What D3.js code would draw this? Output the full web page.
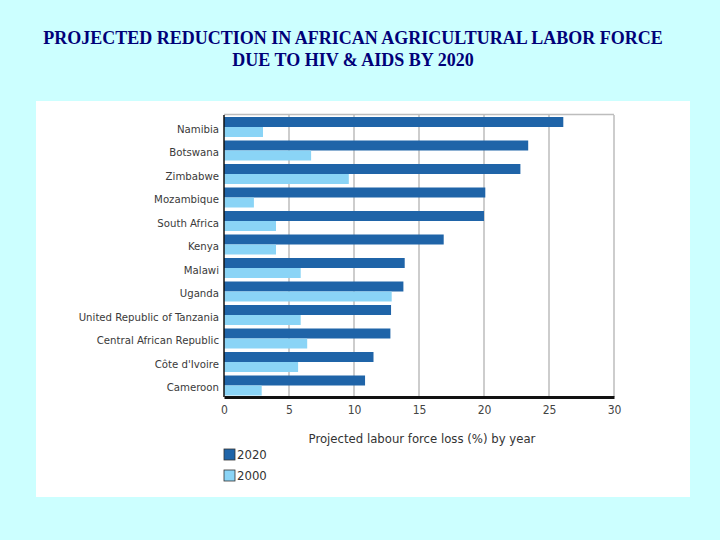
<!DOCTYPE html>
<html>
<head>
<meta charset="utf-8">
<script src="https://cdn.jsdelivr.net/npm/d3@7"></script>
<style>
  body { margin: 0; background: #ccffff; }
  svg { display: block; }
</style>
</head>
<body>
<div id="chart"></div>
<script>
(function () {

  // Data
  const countries = ["Namibia","Botswana","Zimbabwe","Mozambique","South Africa","Kenya","Malawi","Uganda","United Republic of Tanzania","Central African Republic","Côte d'Ivoire","Cameroon"]
  const loss2020 = [26.1, 23.4, 22.8, 20.1, 20.0, 16.9, 13.9, 13.8, 12.85, 12.8, 11.5, 10.85]
  const loss2000 = [3.0, 6.7, 9.6, 2.3, 4.0, 4.0, 5.9, 12.9, 5.9, 6.4, 5.7, 2.9]
  const years = ["2020", "2000"]
  const xTicks = [0, 5, 10, 15, 20, 25, 30]

  const colorScale = d3.scaleOrdinal()
    .domain(years)
    .range(["#1f64a8", "#8ad4f6"])

  const svg = d3.select("#chart").append("svg")
    .attr("width", 720)
    .attr("height", 540)

  // Title
  const title = svg.append("text")
    .attr("text-anchor", "middle")
    .attr("font-family", "'Liberation Serif', 'Times New Roman', serif")
    .attr("font-weight", "bold")
    .attr("font-size", 18)
    .attr("fill", "#000078")
  title.append("tspan").attr("x", 353).attr("y", 44)
    .text("PROJECTED REDUCTION IN AFRICAN AGRICULTURAL LABOR FORCE")
  title.append("tspan").attr("x", 353).attr("y", 66)
    .text("DUE TO HIV & AIDS BY 2020")

  // White panel
  svg.append("rect")
    .attr("x", 36).attr("y", 101)
    .attr("width", 654).attr("height", 396)
    .attr("fill", "#ffffff")

  // Margin convention inside the panel
  const margin = { top: 115, left: 224 }
  const width = 390
  const height = 282

  const g = svg.append("g")
    .attr("transform", "translate(" + margin.left + "," + margin.top + ")")

  const xPositionScale = d3.scaleLinear()
    .domain([0, 30])
    .range([0, width])

  const yPositionScale = d3.scaleBand()
    .domain(countries)
    .range([0, height])

  const ySub = d3.scaleBand()
    .domain(years)
    .range([2, yPositionScale.bandwidth() - 1.5])

  // Grid lines
  g.selectAll(".grid")
    .data(xTicks.slice(1))
    .join("line")
    .attr("class", "grid")
    .attr("x1", d => xPositionScale(d))
    .attr("x2", d => xPositionScale(d))
    .attr("y1", 0)
    .attr("y2", height)
    .attr("stroke", "#bdbdbd")
    .attr("stroke-width", 1.5)

  // Top border
  g.append("line")
    .attr("x1", 0).attr("x2", width)
    .attr("y1", -0.5).attr("y2", -0.5)
    .attr("stroke", "#bdbdbd")
    .attr("stroke-width", 1.5)

  // Bars
  const rows = countries.map((c, i) => ({ country: c, values: [
    { year: "2020", value: loss2020[i] },
    { year: "2000", value: loss2000[i] }
  ] }))

  const row = g.selectAll(".row")
    .data(rows)
    .join("g")
    .attr("class", "row")
    .attr("transform", d => "translate(0," + yPositionScale(d.country) + ")")

  row.selectAll("rect")
    .data(d => d.values)
    .join("rect")
    .attr("x", 0)
    .attr("y", d => ySub(d.year))
    .attr("width", d => xPositionScale(d.value))
    .attr("height", ySub.bandwidth())
    .attr("fill", d => colorScale(d.year))

  // Country labels
  g.selectAll(".label")
    .data(countries)
    .join("text")
    .attr("class", "label")
    .attr("text-anchor", "end")
    .attr("x", -5)
    .attr("y", d => yPositionScale(d) + yPositionScale.bandwidth() / 2 + 6)
    .attr("font-family", "'Liberation Sans Narrow', 'DejaVu Sans Condensed', sans-serif")
    .attr("font-size", 11.3)
    .attr("fill", "#3a3a3a")
    .text(d => d)

  // X axis
  const xAxis = g.append("g")
    .attr("transform", "translate(0," + height + ")")
    .call(d3.axisBottom(xPositionScale).tickValues(xTicks).tickSize(0).tickPadding(8))
  xAxis.select(".domain").attr("stroke", "#111").attr("stroke-width", 3)
  xAxis.selectAll("text")
    .attr("font-family", "'Liberation Sans Narrow', 'DejaVu Sans Condensed', sans-serif")
    .attr("font-size", 12)
    .attr("fill", "#444")

  // Left axis line
  g.append("line")
    .attr("x1", 0).attr("x2", 0)
    .attr("y1", 0).attr("y2", height)
    .attr("stroke", "#111")
    .attr("stroke-width", 1.5)

  // Axis title
  g.append("text")
    .attr("text-anchor", "middle")
    .attr("x", width / 2 + 3)
    .attr("y", height + 46)
    .attr("font-family", "'Liberation Sans Narrow', 'DejaVu Sans Condensed', sans-serif")
    .attr("font-size", 13)
    .attr("fill", "#333")
    .text("Projected labour force loss (%) by year")

  // Legend
  const legend = g.selectAll(".legend")
    .data(years)
    .join("g")
    .attr("class", "legend")
    .attr("transform", (d, i) => "translate(0," + (height + 52 + i * 21) + ")")
  legend.append("rect")
    .attr("width", 11).attr("height", 11)
    .attr("fill", d => colorScale(d))
    .attr("stroke", "#333")
    .attr("stroke-width", 0.8)
  legend.append("text")
    .attr("x", 13)
    .attr("y", 10)
    .attr("font-family", "'Liberation Sans Narrow', 'DejaVu Sans Condensed', sans-serif")
    .attr("font-size", 13)
    .attr("fill", "#333")
    .text(d => d)
})();
</script>
</body>
</html>
